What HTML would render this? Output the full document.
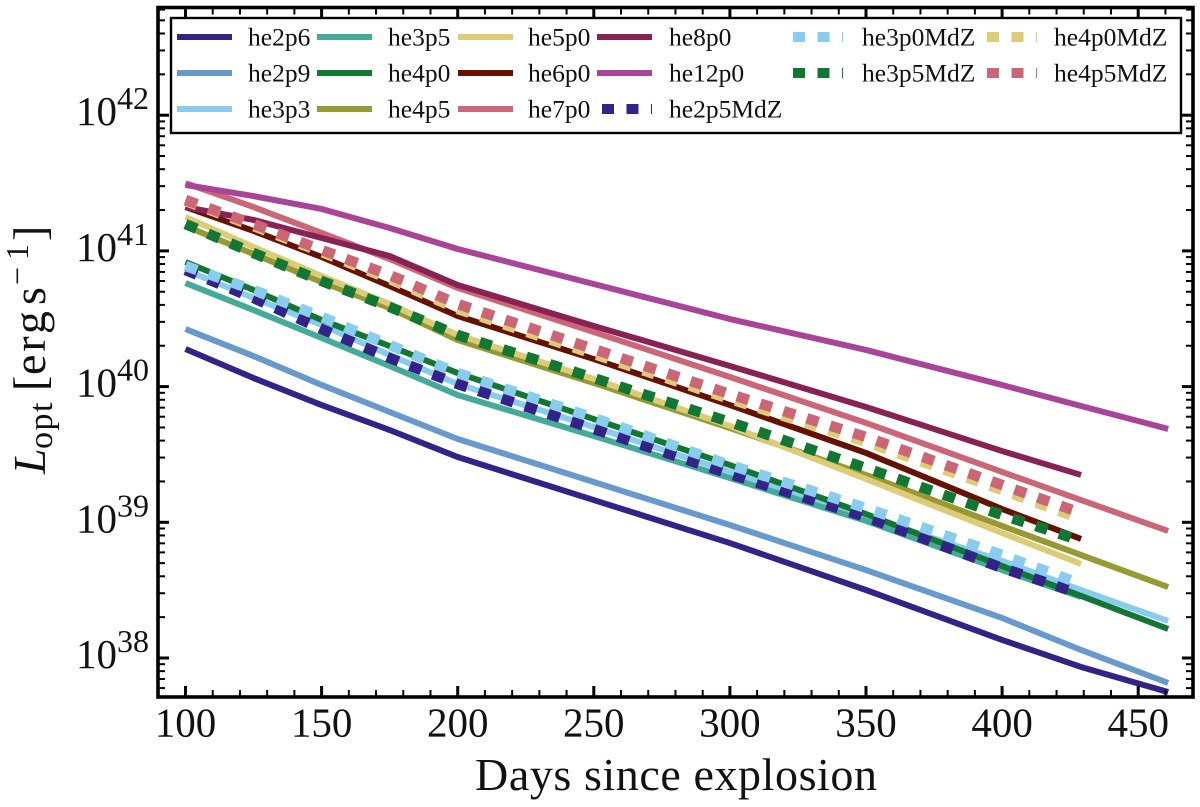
<!DOCTYPE html>
<html lang="en">
<head>
<meta charset="utf-8">
<title>Optical luminosity vs days since explosion</title>
<style>
html,body{margin:0;padding:0;background:#fff;}
#chart{display:block;width:1200px;height:807px;font-family:"Liberation Serif",serif;fill:#111;}
</style>
</head>
<body>
<svg id="chart" xmlns="http://www.w3.org/2000/svg" width="1200" height="807" viewBox="0 0 1200 807">
  <rect x="0" y="0" width="1200" height="807" fill="#fff"/>
  <g id="series"></g>
  <g id="ticks"></g>
  <rect x="158" y="7.5" width="1035" height="689.5" fill="none" stroke="#000" stroke-width="3.6"/>
  <g id="tick-labels"></g>
  <g id="legend">
    <rect x="171" y="18" width="1010" height="115" fill="#fff" stroke="#000" stroke-width="2.4"/>
  </g>
  <text x="475" y="790" font-size="46" textLength="402" lengthAdjust="spacing">Days since explosion</text>
  <text transform="translate(45,474) rotate(-90)" font-size="46"><tspan font-style="italic" x="0" y="0">L</tspan><tspan font-size="34" x="25" y="7" style="letter-spacing:1.5px">opt</tspan><tspan x="83" y="0">[</tspan><tspan x="99" y="0" style="letter-spacing:3px">erg</tspan><tspan x="169" y="0">s</tspan><tspan font-size="32" x="189" y="-17">−</tspan><tspan font-size="32" x="214" y="-17">1</tspan><tspan x="233" y="0">]</tspan></text>
</svg>
<script>
// Time grids (days since explosion)
const daysFull = [100,125,150,175,200,250,300,350,400,429,461];
const daysEarly = [100,125,150,175,200,250,300,350,400,429];
const daysMdZ = [100,125,150,175,200,250,300,350,400,428];

// Series values: log10 of L_opt [erg/s]
const he2p6 = [40.277,40.063,39.864,39.680,39.481,39.164,38.847,38.501,38.133,37.934,37.749];
const he2p9 = [40.424,40.225,40.012,39.813,39.614,39.297,38.980,38.648,38.295,38.059,37.816];
const he3p3 = [40.859,40.653,40.454,40.233,40.019,39.702,39.371,39.046,38.715,38.501,38.273];
const he3p5 = [40.763,40.564,40.358,40.152,39.938,39.636,39.326,39.010,38.648,38.450];
const he4p0 = [40.918,40.712,40.491,40.299,40.100,39.761,39.422,39.061,38.678,38.457,38.214];
const he4p5 = [41.183,40.977,40.771,40.579,40.343,40.026,39.695,39.349,38.973,38.759,38.523];
const he5p0 = [41.250,41.029,40.815,40.609,40.380,40.056,39.710,39.319,38.921,38.693];
const he6p0 = [41.323,41.147,40.955,40.741,40.520,40.203,39.864,39.511,39.098,38.877];
const he7p0 = [41.500,41.323,41.132,40.940,40.727,40.402,40.071,39.732,39.371,39.164,38.936];
const he8p0 = [41.323,41.228,41.095,40.962,40.749,40.447,40.152,39.850,39.525,39.349];
const he12p0 = [41.486,41.404,41.309,41.169,41.014,40.756,40.498,40.270,40.012,39.857,39.688];
const he2p5MdZ = [40.859,40.653,40.424,40.211,40.019,39.688,39.356,39.039,38.663,38.479];
const he3p0MdZ = [40.889,40.712,40.513,40.306,40.100,39.769,39.422,39.105,38.759,38.553];
const he3p5MdZ = [41.198,40.984,40.778,40.587,40.380,40.063,39.739,39.400,39.054,38.870];
const he4p0MdZ = [41.368,41.183,40.992,40.793,40.572,40.240,39.909,39.592,39.238,39.032];
const he4p5MdZ = [41.375,41.198,41.007,40.822,40.609,40.277,39.945,39.629,39.275,39.076];

// Axis tick values
const xTickLabels = [100,150,200,250,300,350,400,450];
const yTickExponents = [38,39,40,41,42];

// Series list in draw and legend order
const seriesNames = ['he2p6','he2p9','he3p3','he3p5','he4p0','he4p5','he5p0','he6p0','he7p0','he8p0','he12p0','he2p5MdZ','he3p0MdZ','he3p5MdZ','he4p0MdZ','he4p5MdZ'];
const seriesValues = [he2p6,he2p9,he3p3,he3p5,he4p0,he4p5,he5p0,he6p0,he7p0,he8p0,he12p0,he2p5MdZ,he3p0MdZ,he3p5MdZ,he4p0MdZ,he4p5MdZ];
const seriesDays = [daysFull,daysFull,daysFull,daysEarly,daysFull,daysFull,daysEarly,daysEarly,daysFull,daysEarly,daysFull,daysMdZ,daysMdZ,daysMdZ,daysMdZ,daysMdZ];
const seriesColors = ['#332288','#6699cc','#88ccee','#44aa99','#117733','#999933','#ddcc77','#661100','#cc6677','#882255','#aa4499','#332288','#88ccee','#117733','#ddcc77','#cc6677'];

// Axis functions
const NS = 'http://www.w3.org/2000/svg';
function xScale(d){ return 185.5 + (d - 100) * 2.722; }
function yScale(v){ return 658 - (v - 38) * 135.7; }

function make(tag, attrs, parent){
  const el = document.createElementNS(NS, tag);
  for (const k in attrs) el.setAttribute(k, attrs[k]);
  parent.appendChild(el);
  return el;
}

// Series
const seriesGroup = document.getElementById('series');
seriesNames.forEach(function(name, i){
  const pts = seriesValues[i].map(function(v, j){
    return xScale(seriesDays[i][j]).toFixed(2) + ',' + yScale(v).toFixed(2);
  }).join(' ');
  const dotted = name.indexOf('MdZ') > -1;
  const line = make('polyline', {
    points: pts, fill: 'none', stroke: seriesColors[i],
    'stroke-width': dotted ? 10.5 : 6,
    'stroke-linejoin': 'round',
    'stroke-dasharray': dotted ? '12.2 12.2' : 'none'
  }, seriesGroup);
  
  
});

// Ticks
const ticksGroup = document.getElementById('ticks');
const L = 158, R = 1193, T = 7.5, B = 697;
function tick(x1, y1, x2, y2, w){
  const t = make('line', {x1: x1, y1: y1, x2: x2, y2: y2, stroke: '#000', 'stroke-width': w}, ticksGroup);
  
  
}
for (let d = 90; d <= 470; d += 10) {
  const major = d % 50 === 0;
  const len = major ? 11 : 7, w = major ? 3 : 2;
  tick(xScale(d), B, xScale(d), B - len, w);
  tick(xScale(d), T, xScale(d), T + len, w);
}
for (let e = 37; e <= 42; e++) {
  for (let m = 1; m <= 9; m++) {
    const v = e + Math.log10(m);
    const y = yScale(v);
    if (y < T || y > B) continue;
    const major = m === 1;
    const len = major ? 11 : 7, w = major ? 3 : 2;
    tick(L, y, L + len, y, w);
    tick(R, y, R - len, y, w);
  }
}

// Tick labels
const labelsGroup = document.getElementById('tick-labels');
xTickLabels.forEach(function(d){
  const t = make('text', {x: xScale(d), y: 736.5, 'text-anchor': 'middle', 'font-size': 41}, labelsGroup);
  t.textContent = d;
  
  
});
yTickExponents.forEach(function(e){
  const y = yScale(e);
  const t = make('text', {x: 76, y: y + 10, 'font-size': 41}, labelsGroup);
  t.textContent = '10';
  
  
  const s = make('text', {x: 117, y: y - 6, 'font-size': 32}, labelsGroup);
  s.textContent = e;
  
  
});

// Legend: column handle start, handle width, label start; rows fill down each column
const legendCols = [[177,55,248],[317,55,388],[458,55,528],[597,55,669],[793,50,862],[987,50,1054]];
const legendRows = [[37,45.5],[73,81.5],[109,117.5]];
const legendGroup = document.getElementById('legend');
seriesNames.forEach(function(name, i){
  let c, r;
  if (i < 12) { c = Math.floor(i / 3); r = i % 3; }
  else { c = 4 + (i - 12 > 1 ? 1 : 0); r = (i - 12) % 2; }
  if (i === 11) { c = 3; r = 2; }
  const col = legendCols[c], row = legendRows[r];
  const dotted = name.indexOf('MdZ') > -1;
  const startX = (i === 11) ? col[0] + 5 : col[0];
  const entry = make('g', {}, legendGroup);
  
  
  const h = make('line', {
    x1: startX, x2: col[0] + col[1], y1: row[0], y2: row[0],
    stroke: seriesColors[i], 'stroke-width': dotted ? 10 : 6,
    'stroke-dasharray': dotted ? '12 12.5' : 'none'
  }, entry);
  
  
  const t = make('text', {x: col[2], y: row[1], 'font-size': 25.5}, entry);
  t.textContent = name;
  
  
});
</script>
</body>
</html>
